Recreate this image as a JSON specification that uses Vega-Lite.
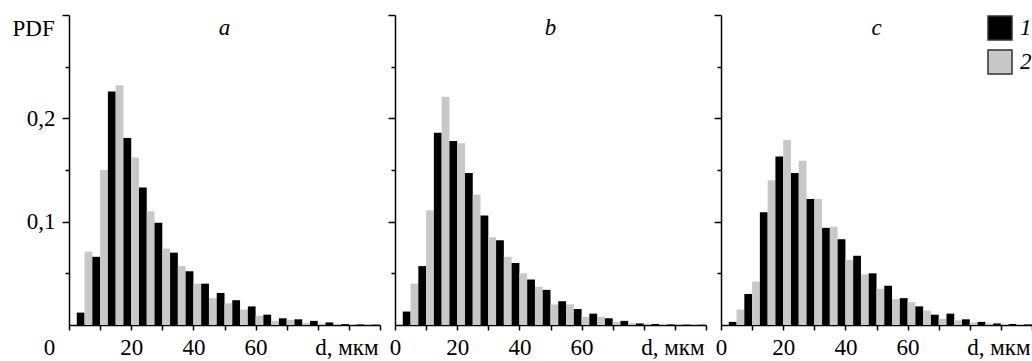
{
"$schema": "https://vega.github.io/schema/vega-lite/v6.json",
"padding": {"left": 12, "top": 14, "right": 0, "bottom": 0},
"background": "white",
"datasets": {"hist": [
{"panel":"a","series":"2","d_from":0,"d_to":2.5,"pdf":0},
{"panel":"a","series":"1","d_from":2.5,"d_to":5,"pdf":0.012},
{"panel":"a","series":"2","d_from":5,"d_to":7.5,"pdf":0.071},
{"panel":"a","series":"1","d_from":7.5,"d_to":10,"pdf":0.066},
{"panel":"a","series":"2","d_from":10,"d_to":12.5,"pdf":0.150},
{"panel":"a","series":"1","d_from":12.5,"d_to":15,"pdf":0.226},
{"panel":"a","series":"2","d_from":15,"d_to":17.5,"pdf":0.232},
{"panel":"a","series":"1","d_from":17.5,"d_to":20,"pdf":0.181},
{"panel":"a","series":"2","d_from":20,"d_to":22.5,"pdf":0.162},
{"panel":"a","series":"1","d_from":22.5,"d_to":25,"pdf":0.133},
{"panel":"a","series":"2","d_from":25,"d_to":27.5,"pdf":0.110},
{"panel":"a","series":"1","d_from":27.5,"d_to":30,"pdf":0.099},
{"panel":"a","series":"2","d_from":30,"d_to":32.5,"pdf":0.074},
{"panel":"a","series":"1","d_from":32.5,"d_to":35,"pdf":0.070},
{"panel":"a","series":"2","d_from":35,"d_to":37.5,"pdf":0.057},
{"panel":"a","series":"1","d_from":37.5,"d_to":40,"pdf":0.052},
{"panel":"a","series":"2","d_from":40,"d_to":42.5,"pdf":0.040},
{"panel":"a","series":"1","d_from":42.5,"d_to":45,"pdf":0.040},
{"panel":"a","series":"2","d_from":45,"d_to":47.5,"pdf":0.026},
{"panel":"a","series":"1","d_from":47.5,"d_to":50,"pdf":0.031},
{"panel":"a","series":"2","d_from":50,"d_to":52.5,"pdf":0.021},
{"panel":"a","series":"1","d_from":52.5,"d_to":55,"pdf":0.024},
{"panel":"a","series":"2","d_from":55,"d_to":57.5,"pdf":0.015},
{"panel":"a","series":"1","d_from":57.5,"d_to":60,"pdf":0.018},
{"panel":"a","series":"2","d_from":60,"d_to":62.5,"pdf":0.009},
{"panel":"a","series":"1","d_from":62.5,"d_to":65,"pdf":0.010},
{"panel":"a","series":"2","d_from":65,"d_to":67.5,"pdf":0.004},
{"panel":"a","series":"1","d_from":67.5,"d_to":70,"pdf":0.0065},
{"panel":"a","series":"2","d_from":70,"d_to":72.5,"pdf":0.005},
{"panel":"a","series":"1","d_from":72.5,"d_to":75,"pdf":0.0055},
{"panel":"a","series":"2","d_from":75,"d_to":77.5,"pdf":0.002},
{"panel":"a","series":"1","d_from":77.5,"d_to":80,"pdf":0.004},
{"panel":"a","series":"2","d_from":80,"d_to":82.5,"pdf":0.0015},
{"panel":"a","series":"1","d_from":82.5,"d_to":85,"pdf":0.0025},
{"panel":"a","series":"2","d_from":85,"d_to":87.5,"pdf":0.001},
{"panel":"a","series":"1","d_from":87.5,"d_to":90,"pdf":0.0008},
{"panel":"a","series":"2","d_from":90,"d_to":92.5,"pdf":0.0005},
{"panel":"a","series":"1","d_from":92.5,"d_to":95,"pdf":0.0005},
{"panel":"a","series":"2","d_from":95,"d_to":97.5,"pdf":0.0003},
{"panel":"a","series":"1","d_from":97.5,"d_to":100,"pdf":0.0003},
{"panel":"b","series":"2","d_from":0,"d_to":2.5,"pdf":0},
{"panel":"b","series":"1","d_from":2.5,"d_to":5,"pdf":0.013},
{"panel":"b","series":"2","d_from":5,"d_to":7.5,"pdf":0.040},
{"panel":"b","series":"1","d_from":7.5,"d_to":10,"pdf":0.057},
{"panel":"b","series":"2","d_from":10,"d_to":12.5,"pdf":0.111},
{"panel":"b","series":"1","d_from":12.5,"d_to":15,"pdf":0.186},
{"panel":"b","series":"2","d_from":15,"d_to":17.5,"pdf":0.221},
{"panel":"b","series":"1","d_from":17.5,"d_to":20,"pdf":0.178},
{"panel":"b","series":"2","d_from":20,"d_to":22.5,"pdf":0.176},
{"panel":"b","series":"1","d_from":22.5,"d_to":25,"pdf":0.147},
{"panel":"b","series":"2","d_from":25,"d_to":27.5,"pdf":0.126},
{"panel":"b","series":"1","d_from":27.5,"d_to":30,"pdf":0.106},
{"panel":"b","series":"2","d_from":30,"d_to":32.5,"pdf":0.085},
{"panel":"b","series":"1","d_from":32.5,"d_to":35,"pdf":0.082},
{"panel":"b","series":"2","d_from":35,"d_to":37.5,"pdf":0.066},
{"panel":"b","series":"1","d_from":37.5,"d_to":40,"pdf":0.060},
{"panel":"b","series":"2","d_from":40,"d_to":42.5,"pdf":0.050},
{"panel":"b","series":"1","d_from":42.5,"d_to":45,"pdf":0.044},
{"panel":"b","series":"2","d_from":45,"d_to":47.5,"pdf":0.037},
{"panel":"b","series":"1","d_from":47.5,"d_to":50,"pdf":0.034},
{"panel":"b","series":"2","d_from":50,"d_to":52.5,"pdf":0.020},
{"panel":"b","series":"1","d_from":52.5,"d_to":55,"pdf":0.023},
{"panel":"b","series":"2","d_from":55,"d_to":57.5,"pdf":0.020},
{"panel":"b","series":"1","d_from":57.5,"d_to":60,"pdf":0.0155},
{"panel":"b","series":"2","d_from":60,"d_to":62.5,"pdf":0.008},
{"panel":"b","series":"1","d_from":62.5,"d_to":65,"pdf":0.011},
{"panel":"b","series":"2","d_from":65,"d_to":67.5,"pdf":0.008},
{"panel":"b","series":"1","d_from":67.5,"d_to":70,"pdf":0.0065},
{"panel":"b","series":"2","d_from":70,"d_to":72.5,"pdf":0.003},
{"panel":"b","series":"1","d_from":72.5,"d_to":75,"pdf":0.004},
{"panel":"b","series":"2","d_from":75,"d_to":77.5,"pdf":0.002},
{"panel":"b","series":"1","d_from":77.5,"d_to":80,"pdf":0.0015},
{"panel":"b","series":"2","d_from":80,"d_to":82.5,"pdf":0.0015},
{"panel":"b","series":"1","d_from":82.5,"d_to":85,"pdf":0.001},
{"panel":"b","series":"2","d_from":85,"d_to":87.5,"pdf":0.0007},
{"panel":"b","series":"1","d_from":87.5,"d_to":90,"pdf":0.0005},
{"panel":"b","series":"2","d_from":90,"d_to":92.5,"pdf":0.0004},
{"panel":"b","series":"1","d_from":92.5,"d_to":95,"pdf":0.0003},
{"panel":"b","series":"2","d_from":95,"d_to":97.5,"pdf":0.0003},
{"panel":"b","series":"1","d_from":97.5,"d_to":100,"pdf":0.0002},
{"panel":"c","series":"2","d_from":0,"d_to":2.5,"pdf":0},
{"panel":"c","series":"1","d_from":2.5,"d_to":5,"pdf":0.003},
{"panel":"c","series":"2","d_from":5,"d_to":7.5,"pdf":0.015},
{"panel":"c","series":"1","d_from":7.5,"d_to":10,"pdf":0.030},
{"panel":"c","series":"2","d_from":10,"d_to":12.5,"pdf":0.042},
{"panel":"c","series":"1","d_from":12.5,"d_to":15,"pdf":0.109},
{"panel":"c","series":"2","d_from":15,"d_to":17.5,"pdf":0.140},
{"panel":"c","series":"1","d_from":17.5,"d_to":20,"pdf":0.163},
{"panel":"c","series":"2","d_from":20,"d_to":22.5,"pdf":0.179},
{"panel":"c","series":"1","d_from":22.5,"d_to":25,"pdf":0.147},
{"panel":"c","series":"2","d_from":25,"d_to":27.5,"pdf":0.159},
{"panel":"c","series":"1","d_from":27.5,"d_to":30,"pdf":0.122},
{"panel":"c","series":"2","d_from":30,"d_to":32.5,"pdf":0.122},
{"panel":"c","series":"1","d_from":32.5,"d_to":35,"pdf":0.094},
{"panel":"c","series":"2","d_from":35,"d_to":37.5,"pdf":0.095},
{"panel":"c","series":"1","d_from":37.5,"d_to":40,"pdf":0.083},
{"panel":"c","series":"2","d_from":40,"d_to":42.5,"pdf":0.063},
{"panel":"c","series":"1","d_from":42.5,"d_to":45,"pdf":0.067},
{"panel":"c","series":"2","d_from":45,"d_to":47.5,"pdf":0.049},
{"panel":"c","series":"1","d_from":47.5,"d_to":50,"pdf":0.050},
{"panel":"c","series":"2","d_from":50,"d_to":52.5,"pdf":0.035},
{"panel":"c","series":"1","d_from":52.5,"d_to":55,"pdf":0.038},
{"panel":"c","series":"2","d_from":55,"d_to":57.5,"pdf":0.025},
{"panel":"c","series":"1","d_from":57.5,"d_to":60,"pdf":0.026},
{"panel":"c","series":"2","d_from":60,"d_to":62.5,"pdf":0.022},
{"panel":"c","series":"1","d_from":62.5,"d_to":65,"pdf":0.018},
{"panel":"c","series":"2","d_from":65,"d_to":67.5,"pdf":0.014},
{"panel":"c","series":"1","d_from":67.5,"d_to":70,"pdf":0.010},
{"panel":"c","series":"2","d_from":70,"d_to":72.5,"pdf":0.006},
{"panel":"c","series":"1","d_from":72.5,"d_to":75,"pdf":0.011},
{"panel":"c","series":"2","d_from":75,"d_to":77.5,"pdf":0.0045},
{"panel":"c","series":"1","d_from":77.5,"d_to":80,"pdf":0.0055},
{"panel":"c","series":"2","d_from":80,"d_to":82.5,"pdf":0.0025},
{"panel":"c","series":"1","d_from":82.5,"d_to":85,"pdf":0.003},
{"panel":"c","series":"2","d_from":85,"d_to":87.5,"pdf":0.0015},
{"panel":"c","series":"1","d_from":87.5,"d_to":90,"pdf":0.0015},
{"panel":"c","series":"2","d_from":90,"d_to":92.5,"pdf":0.001},
{"panel":"c","series":"1","d_from":92.5,"d_to":95,"pdf":0.001},
{"panel":"c","series":"2","d_from":95,"d_to":97.5,"pdf":0.0007},
{"panel":"c","series":"1","d_from":97.5,"d_to":100,"pdf":0.0005}
]},
"config": {
  "font": "Liberation Serif",
  "view": {"stroke": null},
  "axis": {"domainColor": "#000", "tickColor": "#000", "labelColor": "#000", "titleColor": "#000", "domainWidth": 1.5, "tickWidth": 1.5, "grid": false, "labelFont": "Liberation Serif", "labelFontSize": 23, "titleFont": "Liberation Serif", "titleFontSize": 23, "titleFontWeight": "normal"},
  "title": {"font": "Liberation Serif", "fontSize": 23, "fontStyle": "italic", "fontWeight": "normal", "color": "#000"}
},
"spacing": 6,
"resolve": {"scale": {"color": "independent"}, "legend": {"color": "independent"}},
"hconcat": [
{
  "width": 311, "height": 310,
  "data": {"name": "hist"},
  "transform": [{"filter": "datum.panel == 'a'"}],
  "title": {"text": "a", "offset": 0, "dy": 44, "baseline": "alphabetic", "anchor": "middle", "frame": "group"},
  "mark": {"type": "bar"},
  "encoding": {
    "x": {"field": "d_from", "type": "quantitative", "scale": {"domain": [0, 100], "nice": false},
      "axis": {"values": [0,10,20,30,40,50,60,70,80,90,100], "labelExpr": "datum.value <= 60 && datum.value % 20 == 0 ? datum.label : ''", "tickSize": 5, "labelPadding": 6, "labelFlush": false, "labelOverlap": false,
        "labelOffset": {"condition": {"test": "datum.value == 0", "value": -20}, "value": 0},
        "title": "d, мкм", "titleAnchor": "end", "titleAlign": "right", "titleBaseline": "alphabetic", "titleX": 309, "titleY": 29}},
    "x2": {"field": "d_to"},
    "y": {"field": "pdf", "type": "quantitative", "scale": {"domain": [0, 0.3], "nice": false},
      "axis": {"values": [0.05,0.1,0.15,0.2,0.25,0.3], "labelExpr": "datum.value == 0.1 ? '0,1' : datum.value == 0.2 ? '0,2' : ''",
        "labelFontSize": {"condition": {"test": "datum.value == 0.1 || datum.value == 0.2", "value": 23}, "value": 0},
        "tickSize": {"condition": {"test": "datum.value == 0.1 || datum.value == 0.2 || datum.value == 0.3", "value": 7}, "value": 4},
        "labelPadding": 7, "labelOverlap": false,
        "title": "PDF", "titleAngle": 0, "titleAlign": "left", "titleBaseline": "alphabetic", "titleX": -57, "titleY": 20}},
    "y2": {"datum": 0},
    "color": {"field": "series", "type": "nominal", "scale": {"domain": ["1", "2"], "range": ["#000000", "#c8c8c8"]}, "legend": null}
  }
},
{
  "width": 311, "height": 310,
  "data": {"name": "hist"},
  "transform": [{"filter": "datum.panel == 'b'"}],
  "title": {"text": "b", "offset": 0, "dy": 44, "baseline": "alphabetic", "anchor": "middle", "frame": "group"},
  "mark": {"type": "bar"},
  "encoding": {
    "x": {"field": "d_from", "type": "quantitative", "scale": {"domain": [0, 100], "nice": false},
      "axis": {"values": [0,10,20,30,40,50,60,70,80,90,100], "labelExpr": "datum.value <= 60 && datum.value % 20 == 0 ? datum.label : ''", "tickSize": 5, "labelPadding": 6, "labelFlush": false, "labelOverlap": false,
        "title": "d, мкм", "titleAnchor": "end", "titleAlign": "right", "titleBaseline": "alphabetic", "titleX": 309, "titleY": 29}},
    "x2": {"field": "d_to"},
    "y": {"field": "pdf", "type": "quantitative", "scale": {"domain": [0, 0.3], "nice": false},
      "axis": {"values": [0.05,0.1,0.15,0.2,0.25,0.3], "labels": false,
        "tickSize": {"condition": {"test": "datum.value == 0.1 || datum.value == 0.2 || datum.value == 0.3", "value": 7}, "value": 4},
        "title": null}},
    "y2": {"datum": 0},
    "color": {"field": "series", "type": "nominal", "scale": {"domain": ["1", "2"], "range": ["#000000", "#c8c8c8"]}, "legend": null}
  }
},
{
  "width": 311, "height": 310,
  "data": {"name": "hist"},
  "transform": [{"filter": "datum.panel == 'c'"}],
  "title": {"text": "c", "offset": 0, "dy": 44, "baseline": "alphabetic", "anchor": "middle", "frame": "group"},
  "mark": {"type": "bar"},
  "encoding": {
    "x": {"field": "d_from", "type": "quantitative", "scale": {"domain": [0, 100], "nice": false},
      "axis": {"values": [0,10,20,30,40,50,60,70,80,90,100], "labelExpr": "datum.value <= 60 && datum.value % 20 == 0 ? datum.label : ''", "tickSize": 5, "labelPadding": 6, "labelFlush": false, "labelOverlap": false,
        "title": "d, мкм", "titleAnchor": "end", "titleAlign": "right", "titleBaseline": "alphabetic", "titleX": 309, "titleY": 29}},
    "x2": {"field": "d_to"},
    "y": {"field": "pdf", "type": "quantitative", "scale": {"domain": [0, 0.3], "nice": false},
      "axis": {"values": [0.05,0.1,0.15,0.2,0.25,0.3], "labels": false,
        "tickSize": {"condition": {"test": "datum.value == 0.1 || datum.value == 0.2 || datum.value == 0.3", "value": 7}, "value": 4},
        "title": null}},
    "y2": {"datum": 0},
    "color": {"field": "series", "type": "nominal", "scale": {"domain": ["1", "2"], "range": ["#000000", "#c8c8c8"]},
      "legend": {"orient": "top-right", "offset": 0, "padding": 0, "title": null, "symbolType": "square", "symbolSize": 576, "symbolStrokeColor": "#333", "symbolStrokeWidth": 1.5, "symbolOpacity": 1, "labelFont": "Liberation Serif", "labelFontStyle": "italic", "labelFontSize": 23, "labelColor": "#000", "labelOffset": 7, "rowPadding": 4}}
  }
}
]
}
